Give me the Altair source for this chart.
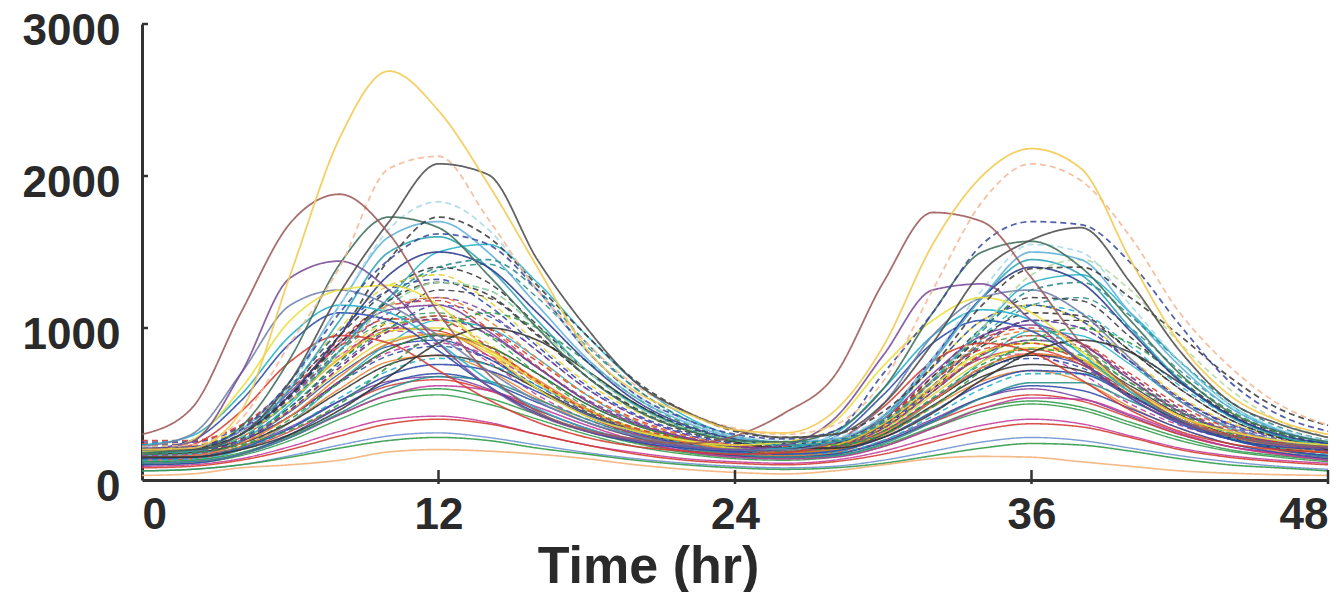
import altair as alt
import pandas as pd

# sampling times (hours)
TIMES = [0, 2, 4, 6, 8, 10, 12, 14, 16, 18, 20, 22, 24, 26, 28, 30, 32, 34, 36, 38, 40, 42, 44, 46, 48]
X_LABELS = [0, 12, 24, 36, 48]
Y_LABELS = [0, 1000, 2000, 3000]
X_TICKS = [12, 24, 36, 48]
Y_TICKS = [1000, 2000, 3000]

# background traces
B01 = [150, 160, 250, 450, 700, 880, 920, 800, 600, 420, 300, 220, 170, 160, 180, 300, 520, 720, 820, 760, 580, 400, 280, 200, 160]
B02 = [200, 210, 300, 550, 850, 1050, 1100, 950, 700, 480, 340, 260, 210, 200, 230, 380, 650, 880, 950, 850, 640, 440, 310, 240, 200]
B03 = [180, 190, 280, 520, 800, 1000, 980, 820, 600, 420, 300, 230, 190, 180, 220, 360, 600, 800, 860, 760, 560, 380, 270, 210, 180]
B04 = [120, 130, 200, 380, 650, 900, 1050, 1000, 800, 560, 380, 260, 190, 170, 190, 300, 520, 780, 980, 950, 760, 520, 340, 230, 170]
B05 = [220, 230, 320, 560, 820, 980, 950, 780, 560, 400, 300, 240, 200, 190, 220, 360, 600, 800, 830, 700, 500, 360, 270, 220, 200]
B06 = [180, 190, 270, 480, 780, 1050, 1250, 1200, 950, 680, 460, 320, 240, 210, 230, 350, 600, 880, 1050, 1050, 850, 600, 400, 280, 220]
B07 = [200, 200, 280, 480, 760, 1000, 1150, 1080, 850, 600, 420, 300, 230, 210, 230, 360, 620, 900, 1050, 1000, 780, 540, 360, 260, 210]
B08 = [160, 180, 280, 520, 820, 1030, 1050, 900, 650, 460, 330, 250, 200, 190, 220, 350, 600, 830, 900, 800, 580, 400, 280, 220, 180]
B09 = [100, 110, 160, 260, 400, 520, 560, 500, 400, 300, 220, 170, 140, 130, 150, 220, 340, 450, 500, 460, 360, 260, 190, 150, 120]
B10 = [240, 250, 360, 620, 920, 1150, 1180, 1000, 750, 520, 370, 280, 220, 210, 240, 400, 680, 930, 1000, 900, 660, 450, 320, 250, 220]
B11 = [150, 160, 220, 350, 520, 650, 680, 600, 460, 340, 250, 190, 160, 150, 170, 260, 400, 540, 600, 540, 420, 300, 220, 180, 150]
B12 = [180, 190, 280, 520, 850, 1150, 1300, 1250, 1000, 720, 500, 350, 260, 230, 250, 380, 650, 950, 1150, 1100, 880, 620, 420, 290, 230]
B13 = [140, 150, 220, 380, 600, 780, 820, 720, 540, 380, 280, 210, 170, 160, 180, 290, 480, 650, 720, 650, 480, 340, 240, 190, 160]
B14 = [200, 200, 260, 420, 650, 860, 950, 880, 700, 500, 360, 270, 220, 200, 220, 320, 520, 720, 820, 790, 620, 430, 300, 240, 200]
B15 = [90, 100, 140, 220, 320, 400, 420, 380, 300, 230, 180, 140, 120, 110, 130, 190, 280, 360, 400, 370, 290, 210, 160, 130, 110]
B16 = [60, 70, 100, 160, 230, 290, 310, 280, 230, 180, 140, 110, 90, 80, 90, 130, 190, 250, 280, 260, 210, 160, 120, 90, 70]
B17 = [160, 170, 260, 480, 780, 1000, 1080, 960, 740, 520, 360, 270, 210, 200, 220, 340, 580, 820, 920, 860, 660, 460, 320, 240, 190]
B18 = [130, 140, 200, 320, 480, 620, 660, 590, 460, 340, 250, 190, 160, 150, 170, 250, 380, 500, 560, 520, 410, 300, 220, 170, 140]
B19 = [170, 180, 260, 460, 720, 920, 960, 840, 640, 460, 330, 250, 200, 190, 210, 330, 560, 780, 870, 800, 600, 420, 290, 220, 180]
B20 = [210, 220, 320, 560, 880, 1180, 1380, 1420, 1200, 880, 600, 400, 280, 240, 250, 360, 620, 920, 1150, 1200, 1000, 720, 480, 320, 250]
B21 = [190, 190, 260, 420, 640, 820, 880, 800, 620, 450, 330, 250, 200, 190, 210, 320, 530, 730, 800, 740, 560, 390, 280, 220, 190]
B22 = [230, 230, 330, 600, 950, 1250, 1400, 1300, 1020, 720, 500, 350, 260, 230, 250, 390, 680, 1000, 1200, 1180, 940, 660, 440, 310, 240]
B23 = [200, 210, 300, 540, 850, 1100, 1200, 1100, 850, 600, 420, 300, 230, 210, 230, 360, 620, 900, 1050, 1000, 780, 540, 370, 270, 210]
B24 = [120, 130, 180, 290, 430, 560, 600, 540, 430, 320, 240, 180, 150, 140, 160, 230, 350, 470, 520, 480, 380, 280, 200, 160, 130]
B25 = [170, 180, 260, 460, 740, 980, 1080, 1000, 780, 560, 400, 290, 220, 200, 220, 340, 580, 830, 950, 900, 700, 490, 340, 250, 190]
B26 = [160, 170, 260, 500, 850, 1200, 1500, 1550, 1300, 950, 640, 420, 290, 250, 260, 380, 660, 1000, 1300, 1350, 1100, 780, 500, 330, 240]
B27 = [190, 200, 300, 560, 900, 1150, 1200, 1050, 800, 560, 390, 290, 230, 210, 230, 380, 650, 900, 980, 900, 680, 470, 330, 250, 200]
B28 = [160, 170, 240, 420, 650, 840, 900, 820, 640, 460, 330, 250, 200, 190, 210, 320, 530, 740, 830, 780, 600, 420, 290, 220, 180]
B29 = [100, 110, 170, 300, 480, 640, 700, 640, 510, 380, 280, 200, 160, 150, 170, 250, 390, 540, 620, 590, 470, 340, 240, 180, 140]
B30 = [220, 230, 340, 620, 1000, 1280, 1350, 1180, 900, 640, 450, 330, 260, 240, 260, 420, 740, 1050, 1150, 1050, 800, 550, 380, 280, 230]
B31 = [140, 150, 220, 400, 640, 860, 950, 880, 700, 500, 360, 270, 210, 190, 210, 320, 540, 760, 860, 820, 640, 450, 310, 230, 180]
B32 = [170, 180, 240, 380, 580, 760, 820, 760, 600, 440, 320, 240, 190, 180, 200, 300, 490, 680, 760, 720, 560, 390, 280, 210, 180]
B33 = [80, 90, 130, 200, 290, 370, 400, 370, 300, 230, 170, 130, 110, 100, 120, 170, 250, 330, 370, 350, 280, 200, 150, 120, 100]
B34 = [210, 220, 320, 580, 900, 1120, 1150, 980, 740, 520, 370, 280, 220, 210, 240, 400, 700, 950, 1020, 900, 660, 450, 320, 250, 210]
B35 = [130, 140, 200, 340, 540, 720, 800, 760, 620, 460, 330, 240, 190, 170, 180, 260, 420, 600, 700, 700, 560, 400, 280, 210, 160]
B36 = [250, 250, 350, 620, 980, 1250, 1320, 1150, 880, 620, 430, 310, 240, 220, 250, 420, 740, 1050, 1150, 1050, 780, 530, 370, 280, 240]
B37 = [60, 70, 100, 150, 210, 260, 280, 260, 210, 170, 130, 100, 80, 70, 80, 110, 160, 210, 240, 230, 190, 140, 100, 80, 60]
B38 = [110, 120, 170, 280, 430, 560, 620, 590, 480, 360, 260, 190, 150, 140, 150, 220, 340, 470, 540, 530, 430, 310, 220, 170, 130]
B39 = [150, 160, 240, 420, 680, 900, 960, 860, 660, 470, 330, 250, 200, 180, 200, 310, 520, 740, 830, 780, 600, 420, 290, 220, 180]
B40 = [190, 200, 300, 560, 900, 1180, 1300, 1220, 960, 680, 470, 330, 250, 220, 240, 370, 650, 940, 1100, 1080, 850, 600, 400, 280, 220]
B41 = [200, 210, 300, 520, 800, 980, 1000, 860, 640, 460, 340, 260, 210, 200, 230, 370, 620, 840, 900, 800, 580, 400, 290, 230, 200]
B42 = [110, 120, 170, 280, 440, 600, 680, 650, 530, 400, 290, 210, 170, 150, 160, 240, 380, 540, 640, 640, 520, 380, 270, 200, 150]
B43 = [260, 260, 360, 600, 880, 1060, 1050, 880, 650, 460, 340, 270, 230, 220, 250, 400, 650, 860, 900, 780, 560, 400, 300, 250, 230]
B44 = [140, 150, 210, 340, 520, 690, 760, 720, 580, 430, 310, 230, 180, 170, 190, 280, 450, 630, 720, 700, 550, 390, 270, 200, 160]
B45 = [170, 180, 260, 460, 740, 980, 1060, 960, 740, 530, 380, 280, 220, 200, 220, 340, 580, 820, 920, 880, 680, 470, 320, 240, 190]
B46 = [200, 260, 520, 900, 1100, 1050, 850, 620, 440, 320, 250, 210, 190, 200, 280, 560, 900, 1050, 980, 780, 540, 370, 270, 220, 200]
B47 = [180, 230, 450, 780, 950, 900, 720, 530, 380, 280, 220, 190, 170, 180, 250, 480, 780, 900, 840, 660, 460, 320, 240, 200, 180]
B48 = [170, 180, 230, 330, 500, 750, 980, 1100, 1000, 780, 540, 370, 270, 230, 230, 300, 480, 720, 920, 1000, 900, 680, 460, 310, 220]
B49 = [150, 150, 200, 300, 460, 680, 900, 1000, 920, 720, 500, 340, 250, 210, 210, 280, 440, 660, 840, 920, 840, 640, 430, 290, 200]
B50 = [230, 290, 560, 950, 1150, 1100, 900, 660, 470, 340, 260, 220, 200, 210, 300, 600, 950, 1120, 1050, 830, 580, 400, 290, 240, 220]

# prominent traces
ORANGE_LOW = [30, 40, 80, 100, 130, 185, 200, 190, 170, 140, 100, 70, 50, 40, 60, 100, 140, 155, 150, 120, 90, 60, 45, 35, 30]
EARLY_GRAY = [220, 300, 700, 1150, 1250, 1150, 950, 720, 520, 380, 290, 230, 200, 200, 250, 500, 950, 1200, 1250, 1100, 800, 520, 350, 260, 220]
TEAL = [180, 190, 300, 600, 1050, 1500, 1600, 1400, 1050, 720, 490, 340, 260, 230, 250, 400, 780, 1200, 1450, 1350, 1000, 660, 420, 290, 220]
DKBLUE = [200, 210, 300, 560, 950, 1350, 1500, 1400, 1100, 780, 520, 360, 270, 240, 260, 420, 800, 1200, 1400, 1300, 980, 650, 430, 300, 240]
LTGREEN_DASH = [190, 200, 290, 520, 850, 1150, 1300, 1250, 1000, 720, 480, 340, 260, 240, 260, 380, 650, 1000, 1350, 1450, 1250, 900, 600, 390, 280]
LTBLUE = [200, 210, 330, 650, 1150, 1600, 1700, 1500, 1150, 800, 540, 380, 280, 250, 270, 420, 780, 1200, 1500, 1450, 1100, 750, 480, 330, 250]
TEAL_DASH = [210, 210, 300, 520, 850, 1200, 1400, 1450, 1250, 900, 600, 400, 290, 250, 260, 380, 650, 980, 1250, 1300, 1080, 780, 520, 350, 260]
LTCYAN_DASH = [200, 210, 320, 620, 1150, 1650, 1830, 1650, 1250, 850, 560, 390, 290, 260, 280, 430, 800, 1250, 1550, 1500, 1150, 780, 500, 340, 260]
YELLOW = [180, 260, 600, 1050, 1250, 1280, 1150, 850, 600, 420, 320, 260, 230, 250, 380, 750, 1050, 1200, 1100, 850, 600, 420, 320, 260, 230]
PURPLE = [200, 250, 700, 1330, 1440, 1250, 900, 620, 430, 320, 260, 220, 200, 230, 400, 820, 1250, 1290, 1050, 780, 540, 380, 290, 230, 210]
DKGREEN = [180, 200, 350, 800, 1420, 1730, 1660, 1350, 1000, 680, 460, 330, 260, 250, 320, 600, 1100, 1500, 1570, 1400, 1050, 700, 450, 320, 250]
DKGRAY_DASH = [200, 210, 300, 550, 950, 1450, 1730, 1600, 1280, 950, 650, 450, 320, 280, 300, 450, 750, 1150, 1390, 1400, 1200, 950, 680, 470, 360]
BLUE_DASH = [220, 220, 330, 650, 1100, 1450, 1620, 1550, 1250, 850, 560, 400, 300, 270, 320, 700, 1100, 1550, 1700, 1680, 1430, 1020, 650, 430, 320]
PEACH_DASH = [220, 230, 400, 900, 1400, 2050, 2130, 1720, 1250, 900, 620, 450, 340, 300, 360, 650, 1250, 1830, 2080, 1970, 1600, 1100, 750, 500, 360]
DKGRAY = [200, 200, 300, 650, 1230, 1700, 2080, 2010, 1450, 1000, 640, 450, 330, 280, 300, 500, 900, 1370, 1580, 1660, 1300, 850, 520, 370, 280]
BROWN = [300, 470, 1100, 1690, 1880, 1620, 1100, 700, 450, 330, 270, 240, 290, 440, 680, 1300, 1760, 1700, 1330, 900, 600, 400, 290, 240, 220]
GOLD = [200, 210, 450, 1350, 2250, 2690, 2430, 1950, 1400, 860, 580, 440, 330, 310, 450, 880, 1550, 2000, 2180, 2050, 1450, 900, 560, 390, 300]

BLUE, GREEN, RED, CYAN = "#2b4aa8", "#2e9a48", "#d43a30", "#1fb0c8"
MAGENTA, BLACK, YEL, ORANGE = "#c0389a", "#333333", "#e0d02a", "#e8822c"
PURP, LBLUE, TEALC = "#7a3e9a", "#6a8fd0", "#2a9090"

# (name, colour, dashed, prominent, values)
SERIES = [
    ("b01", BLUE, False, False, B01), ("b02", GREEN, True, False, B02),
    ("b03", RED, False, False, B03), ("b04", CYAN, False, False, B04),
    ("b05", MAGENTA, True, False, B05), ("b06", BLACK, True, False, B06),
    ("b07", BLUE, True, False, B07), ("b08", YEL, True, False, B08),
    ("b09", GREEN, False, False, B09), ("b10", RED, True, False, B10),
    ("b11", PURP, False, False, B11), ("b12", CYAN, True, False, B12),
    ("b13", ORANGE, False, False, B13), ("b14", BLACK, False, False, B14),
    ("b15", MAGENTA, False, False, B15), ("b16", LBLUE, False, False, B16),
    ("b17", GREEN, True, False, B17), ("b18", RED, False, False, B18),
    ("b19", YEL, False, False, B19), ("b20", TEALC, True, False, B20),
    ("b21", BLUE, True, False, B21), ("b22", BLACK, True, False, B22),
    ("b23", PURP, True, False, B23), ("b24", GREEN, False, False, B24),
    ("b25", RED, True, False, B25), ("b26", CYAN, False, False, B26),
    ("b27", ORANGE, True, False, B27), ("b28", MAGENTA, True, False, B28),
    ("b29", BLUE, False, False, B29), ("b30", YEL, True, False, B30),
    ("b31", GREEN, True, False, B31), ("b32", BLACK, False, False, B32),
    ("b33", RED, False, False, B33), ("b34", PURP, False, False, B34),
    ("b35", CYAN, True, False, B35), ("b36", BLUE, True, False, B36),
    ("b37", GREEN, False, False, B37), ("b38", MAGENTA, False, False, B38),
    ("b39", ORANGE, False, False, B39), ("b40", BLACK, True, False, B40),
    ("b41", YEL, False, False, B41), ("b42", TEALC, False, False, B42),
    ("b43", RED, True, False, B43), ("b44", BLUE, False, False, B44),
    ("b45", PURP, True, False, B45), ("b46", BLUE, False, False, B46),
    ("b47", RED, False, False, B47), ("b48", GREEN, True, False, B48),
    ("b49", BLACK, False, False, B49), ("b50", CYAN, False, False, B50),
    ("p01", "#f2b27a", False, True, ORANGE_LOW),
    ("p02", "#6f7fa8", False, True, EARLY_GRAY),
    ("p03", "#2aa3b5", False, True, TEAL),
    ("p04", "#2b3a8c", False, True, DKBLUE),
    ("p05", "#b5d9a0", True, True, LTGREEN_DASH),
    ("p06", "#5fb0d8", False, True, LTBLUE),
    ("p07", "#2e8b8b", True, True, TEAL_DASH),
    ("p08", "#a8d8e8", True, True, LTCYAN_DASH),
    ("p09", "#ecdf3a", False, True, YELLOW),
    ("p10", "#7a4b96", False, True, PURPLE),
    ("p11", "#3d6e5a", False, True, DKGREEN),
    ("p12", "#3c3c3c", True, True, DKGRAY_DASH),
    ("p13", "#3a4aa0", True, True, BLUE_DASH),
    ("p14", "#f5b895", True, True, PEACH_DASH),
    ("p15", "#4d4d4d", False, True, DKGRAY),
    ("p16", "#9b5a58", False, True, BROWN),
    ("p17", "#f3c94e", False, True, GOLD),
]

rows = []
for name, col, dashed, prom, vals in SERIES:
    for t, v in zip(TIMES, vals):
        rows.append({"series": name, "t": t, "v": v})
df = pd.DataFrame(rows)

names = [s[0] for s in SERIES]
colors = [s[1] for s in SERIES]
dashes = [[6, 4] if s[2] else [1, 0] for s in SERIES]
widths = [(2.0 if s[3] else 1.8) if s[2] else (2.0 if s[3] else 1.3) for s in SERIES]

AXIS_COLOR = "#333333"
FONT = "Liberation Sans"

X_AXIS = alt.Axis(values=X_LABELS, title="Time (hr)", titleX=506, titleY=102,
                  titleAlign="center", titleBaseline="alphabetic",
                  titleFontSize=52, titleFont=FONT, titleFontWeight="bold",
                  titleColor="#2a2a2a", labelPadding=13, format="d")
Y_AXIS = alt.Axis(values=Y_LABELS, title=None, labelPadding=22, labelOffset=7, format="d")
X_SCALE = alt.Scale(domain=[0, 48], nice=False, zero=False)
Y_SCALE = alt.Scale(domain=[0, 3000], nice=False)

lines = alt.Chart(df).mark_line(opacity=0.88, strokeJoin="round", interpolate="monotone").encode(
    x=alt.X("t:Q", scale=X_SCALE, axis=X_AXIS),
    y=alt.Y("v:Q", scale=Y_SCALE, axis=Y_AXIS),
    color=alt.Color("series:N", scale=alt.Scale(domain=names, range=colors), legend=None),
    strokeDash=alt.StrokeDash("series:N", scale=alt.Scale(domain=names, range=dashes), legend=None),
    size=alt.Size("series:N", scale=alt.Scale(domain=names, range=widths), legend=None),
)

yticks = alt.Chart(pd.DataFrame({"v": Y_TICKS})).mark_rule(color=AXIS_COLOR, strokeWidth=2.5).encode(
    y=alt.Y("v:Q", scale=Y_SCALE, axis=Y_AXIS), x=alt.value(0), x2=alt.value(6))

xticks = alt.Chart(pd.DataFrame({"t": X_TICKS})).mark_rule(color=AXIS_COLOR, strokeWidth=2.5).encode(
    x=alt.X("t:Q", scale=X_SCALE, axis=X_AXIS), y=alt.value(446), y2=alt.value(460))

chart = alt.layer(lines, yticks, xticks).properties(
    width=1186, height=456,
    autosize=alt.AutoSizeParams(type="none"),
    padding={"left": 134, "top": 16, "right": 3, "bottom": 112},
).configure_view(stroke=None).configure_axis(
    grid=False, ticks=False, domainColor=AXIS_COLOR, domainWidth=3,
    labelFont=FONT, labelFontWeight="bold", labelFontSize=44, labelColor="#2a2a2a",
)

chart.save("out.html", embed_options={"renderer": "svg", "actions": False})
